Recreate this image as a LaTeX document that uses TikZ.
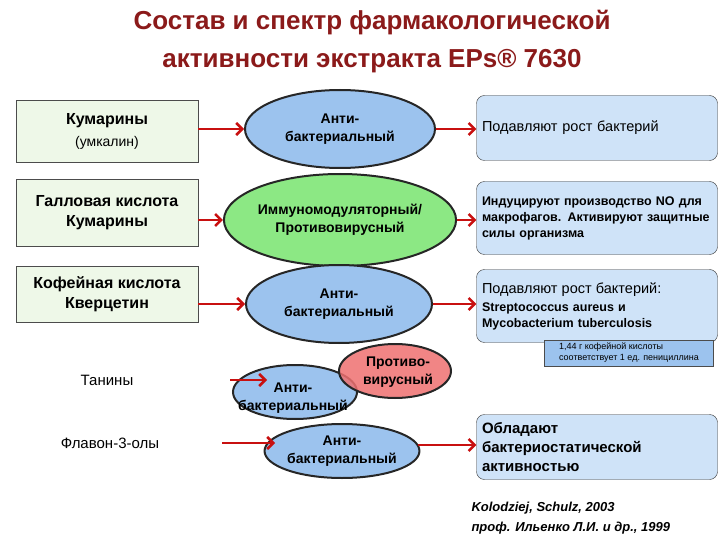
\documentclass[tikz,border=0pt]{standalone}
\usepackage{fontspec}
\setmainfont{Liberation Sans}
\usetikzlibrary{arrows.meta,shapes.geometric}
\definecolor{tred}{HTML}{8B1A1A}
\definecolor{lgreen}{HTML}{EEF8E8}
\definecolor{eblue}{HTML}{9CC3EE}
\definecolor{egreen}{HTML}{8CE884}
\definecolor{ered}{HTML}{EE7070}
\definecolor{rblue}{HTML}{CFE3F8}
\definecolor{nblue}{HTML}{9CC3EE}
\definecolor{arr}{HTML}{C81010}
\tikzset{
 x=1pt,y=-1pt,
 src/.style={draw=black!70,fill=lgreen,minimum width=182pt,align=center,font=\bfseries\fontsize{16}{20}\selectfont},
 ell/.style={draw=black!85,line width=2pt,ellipse,inner sep=0pt,align=center,font=\bfseries\fontsize{14}{18}\selectfont},
 res/.style={draw=black!80,fill=rblue,rounded corners=8pt,minimum width=241pt,align=left,text width=230pt},
 arw/.style={draw=arr,line width=2.5pt,-{Straight Barb[length=6pt,width=12pt]}}
}
\begin{document}
\begin{tikzpicture}
\useasboundingbox (0,0) rectangle (720,540);
\node[font=\bfseries\fontsize{26}{38}\selectfont,text=tred,align=center] (title) at (372,42) {Состав и спектр фармакологической\\активности экстракта EPs® 7630};
\node[src,minimum height=62pt] (s1) at (107,131) {Кумарины\\[2pt]{\mdseries\fontsize{14}{17}\selectfont (умкалин)}};
\node[src,minimum height=67pt] (s2) at (107,213) {Галловая кислота\\Кумарины};
\node[src,minimum height=56pt] (s3) at (107,294) {Кофейная кислота\\Кверцетин};
\node[font=\fontsize{15}{18}\selectfont] (s4) at (107,380) {Танины};
\node[font=\fontsize{15}{18}\selectfont] (s5) at (110,443) {Флавон-3-олы};
\node[ell,fill=eblue,minimum width=190pt,minimum height=78pt] (e1) at (340,129) {Анти-\\бактериальный};
\node[ell,fill=egreen,minimum width=190pt,minimum height=92pt] (e2) at (340,220) {Иммуномодуляторный/\\Противовирусный};
\node[ell,fill=eblue,minimum width=186pt,minimum height=78pt] (e3) at (339,304) {Анти-\\бактериальный};
\node[ell,fill=eblue,minimum width=124pt,minimum height=54pt] (e4) at (295,392) {};
\node[ell,fill=ered,fill opacity=0.85,minimum width=112pt,minimum height=54pt] (e5) at (395,371) {};
\node[font=\bfseries\fontsize{14}{18}\selectfont,align=center] (t4) at (293,398) {Анти-\\бактериальный};
\node[font=\bfseries\fontsize{14}{18}\selectfont,align=center] (t5) at (398,372) {Противо-\\вирусный};
\node[ell,fill=eblue,minimum width=132pt,minimum height=54pt] (e6) at (342,451) {Анти-\\бактериальный};
\node[res,minimum height=65pt,font=\fontsize{14.5}{18}\selectfont] (r1) at (597,128) {Подавляют рост бактерий};
\node[res,minimum height=73pt,font=\bfseries\fontsize{12.5}{16}\selectfont] (r2) at (597,218) {Индуцируют производство NO для макрофагов. Активируют защитные силы организма};
\node[res,minimum height=73pt,font=\bfseries\fontsize{12.5}{16}\selectfont] (r3) at (597,306) {{\mdseries\fontsize{14.5}{18}\selectfont Подавляют рост бактерий:}\\[2pt]Streptococcus aureus и\\Mycobacterium tuberculosis};
\node[draw=black!70,fill=nblue,minimum width=169pt,minimum height=26pt,align=left,font=\fontsize{9}{11}\selectfont] (n1) at (629,353) {1,44 г кофейной кислоты\\соответствует 1 ед. пенициллина};
\node[res,minimum height=65pt,font=\bfseries\fontsize{15}{19}\selectfont] (r4) at (597,447) {Обладают\\бактериостатической\\активностью};
\node[font=\bfseries\itshape\fontsize{13}{20}\selectfont,align=left,anchor=west] (cit) at (468,518) {Kolodziej, Schulz, 2003\\проф. Ильенко Л.И. и др., 1999};
\draw[arw] (s1.east|-e1) -- (e1.west);
\draw[arw] (s2.east|-e2) -- (e2.west);
\draw[arw] (s3.east|-e3) -- (e3.west);
\coordinate (a4) at (230,380); \coordinate (b4) at (267,380);
\draw[arw] (a4) -- (b4);
\coordinate (a5) at (222,443); \coordinate (b5) at (275,443);
\draw[arw] (a5) -- (b5);
\draw[arw] (e1.east) -- (r1.west|-e1);
\draw[arw] (e2.east) -- (r2.west|-e2);
\draw[arw] (e3.east) -- (r3.west|-e3);
\coordinate (a6) at (418,445);
\draw[arw] (a6) -- (r4.west|-a6);
\end{tikzpicture}
\end{document}
